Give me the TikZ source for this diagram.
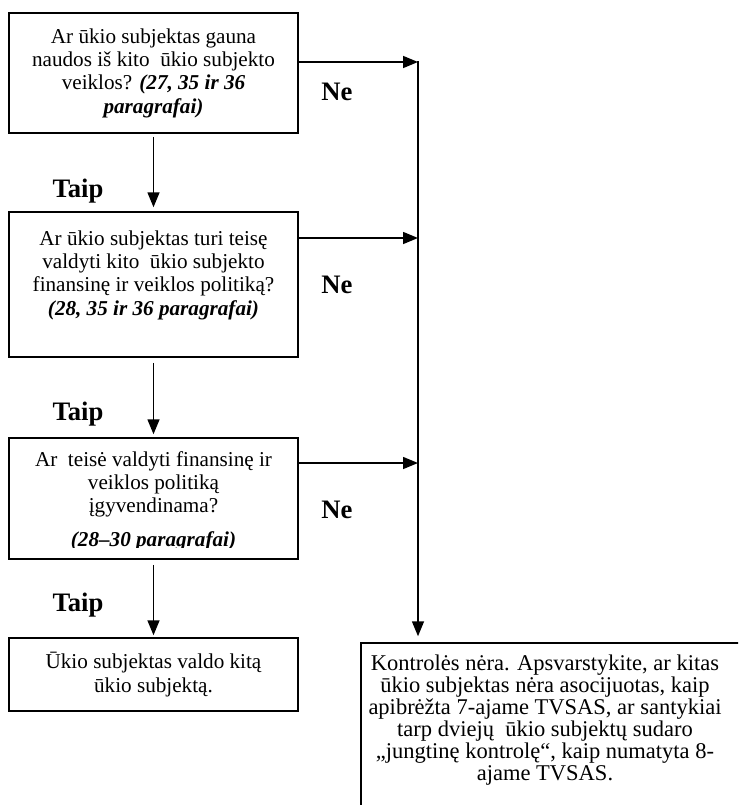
\documentclass[tikz,border=0pt]{standalone}
\usepackage{fontspec}
\setmainfont{Liberation Serif}
\usetikzlibrary{arrows.meta}
\begin{document}
\begin{tikzpicture}[x=0.6pt,y=-0.6pt,
		qbox/.style={draw,line width=0.9pt,minimum width=173.4pt,inner sep=0pt,align=center,font=\fontsize{12.7}{14}\selectfont},
		qtext/.style={align=center,inner sep=0pt,font=\fontsize{12.7}{14}\selectfont},
		ans/.style={font=\fontsize{16}{18}\selectfont\bfseries},
		arr/.style={line width=0.9pt,-{Triangle[length=9pt,width=7.2pt]}}]
		\useasboundingbox (0,0) rectangle (738,805);
		\clip (0,0) rectangle (738,805);
		% questions
		\node[qbox,minimum height=72pt] (q1) at (153.5,73) {Ar ūkio subjektas gauna\\naudos iš kito~ ūkio subjekto\\veiklos? \textbf{\textit{(27, 35 ir 36}}\\\textbf{\textit{paragrafai)}}};
		\node[qbox,minimum height=87pt] (q2) at (153.5,284.5) {Ar ūkio subjektas turi teisę\\valdyti kito~ ūkio subjekto\\finansinę ir veiklos politiką?\\\textbf{\textit{(28, 35 ir 36 paragrafai)}}\\\mbox{}};
		\node[qbox,minimum height=72.6pt] (q3) at (153.5,498.5) {};
		\begin{scope}
			\clip (q3.north west) rectangle (q3.east |- 0,547);
			\node[qtext] (q3t) at ([yshift=-1.5pt]q3.center) {Ar~ teisė valdyti finansinę ir\\veiklos politiką\\įgyvendinama?\\[6pt]\textbf{\textit{(28–30 paragrafai)}}};
		\end{scope}
		\node[qbox,minimum height=43.8pt] (q4) at (153.5,674.5) {Ūkio subjektas valdo kitą\\ūkio subjektą.};
		% no control
		\node[draw,line width=0.9pt,minimum width=233.4pt,minimum height=103.2pt] (q5) at (555.5,729) {};
		\node[qtext,font=\fontsize{13.5}{13.2}\selectfont] (q5t) at (545,720) {Kontrolės nėra. Apsvarstykite, ar kitas\\ūkio subjektas nėra asocijuotas, kaip\\apibrėžta 7-ajame TVSAS, ar santykiai\\tarp dviejų~ ūkio subjektų sudaro\\„jungtinę kontrolę“, kaip numatyta 8-\\ajame TVSAS.};
		% answers
		\node[ans,anchor=base] (t1) at (78,197) {Taip};
		\node[ans,anchor=base] (t2) at (78,420) {Taip};
		\node[ans,anchor=base] (t3) at (78,611) {Taip};
		\node[ans,anchor=base] (n1) at (337,100) {Ne};
		\node[ans,anchor=base] (n2) at (337,293) {Ne};
		\node[ans,anchor=base] (n3) at (337,518) {Ne};
		% arrows
		\coordinate (j1) at (418,62);
		\coordinate (j2) at (418,238);
		\coordinate (j3) at (418,463);
		\draw[arr,shorten <=1.8pt,shorten >=2.4pt] (q1) -- (q2);
		\draw[arr,shorten <=3pt,shorten >=1.8pt] (q2) -- (q3);
		\draw[arr,shorten <=3pt,shorten >=1.2pt] (q3) -- (q4);
		\draw[arr] (q1.east |- j1) -- (j1);
		\draw[arr] (q2.east |- j2) -- (j2);
		\draw[arr] (q3.east |- j3) -- (j3);
		\draw[arr,shorten >=3.6pt] ([yshift=0.45pt]j1) -- (j1 |- q5.north);
\end{tikzpicture}
\end{document}
